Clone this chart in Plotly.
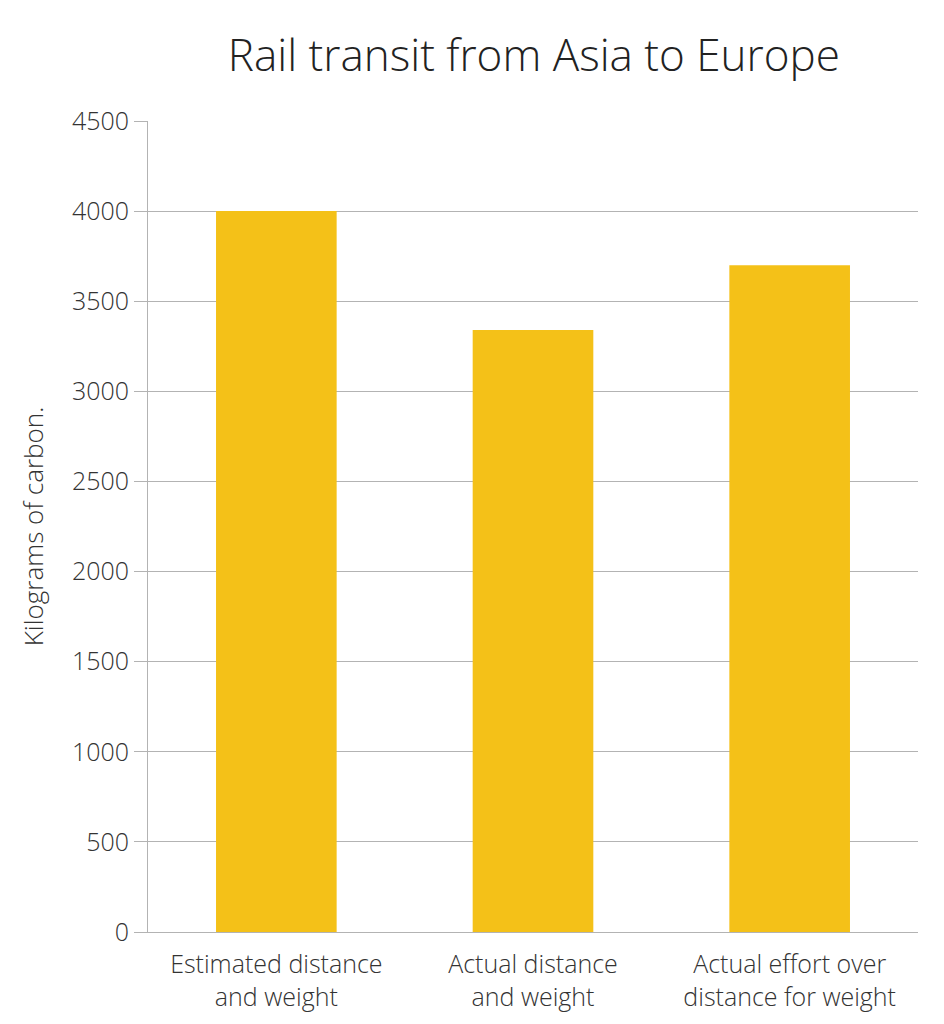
import plotly.graph_objects as go

categories = ["Estimated distance<br>and weight", "Actual distance<br>and weight",
              "Actual effort over<br>distance for weight"]
carbon_kg = [4000, 3340, 3700]
y_ticks = [0, 500, 1000, 1500, 2000, 2500, 3000, 3500, 4000, 4500]

font_name = "Open Sans"
text_col = "#333333"
grid_col = "#b3b3b3"

fig = go.Figure()
fig.add_trace(go.Bar(x=categories, y=carbon_kg, marker=dict(color="#F4C118", line=dict(width=0)),
                     showlegend=False))

# the page body adds an 8px margin, so margins are trimmed to compensate
fig.update_layout(
    width=944, height=1024,
    margin=dict(l=140, r=34, t=113, b=100),
    plot_bgcolor="white", paper_bgcolor="white",
    bargap=0.53,
    font=dict(family=font_name, color=text_col, weight=300),
    title=dict(text="Rail transit from Asia to Europe", x=0.557, xanchor="center",
               y=0.954, yanchor="middle",
               font=dict(size=44, family=font_name, color="#222222", weight=300)),
)
fig.update_yaxes(range=[0, 4500], tickvals=y_ticks, showgrid=True, gridcolor=grid_col, gridwidth=1,
                 showline=True, linecolor=grid_col, linewidth=1,
                 ticks="outside", ticklen=13, tickcolor=grid_col,
                 tickfont=dict(size=25, family=font_name, color=text_col, weight=300),
                 title=dict(text="Kilograms of carbon.", standoff=20,
                            font=dict(size=26, family=font_name, color=text_col, weight=300)),
                 zeroline=False)
fig.update_xaxes(showline=True, linecolor=grid_col, linewidth=1, ticks="",
                 ticklabelstandoff=10,
                 tickfont=dict(size=25, family=font_name, color=text_col, weight=300))

fig.write_html("out.html")
